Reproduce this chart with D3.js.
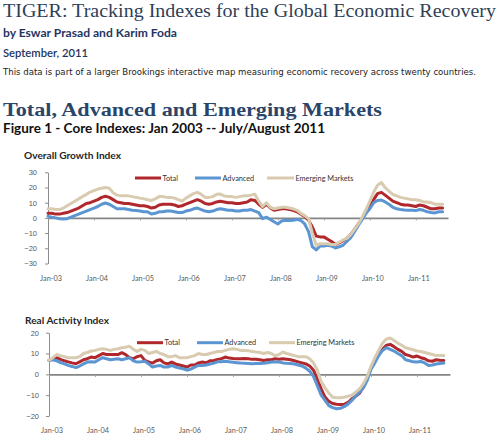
<!DOCTYPE html>
<html><head><meta charset="utf-8">
<script src="https://cdn.jsdelivr.net/npm/d3@7"></script>
<style>body{margin:0;background:#fff}svg{display:block}</style>
</head><body><svg id="c" width="500" height="437"></svg>
<script>
// ---- Data (monthly, Jan 2003 .. Aug 2011) ----
const xTickLabels = ["Jan-03","Jan-04","Jan-05","Jan-06","Jan-07","Jan-08","Jan-09","Jan-10","Jan-11"];
const xTickMonths = [0,12,24,36,48,60,72,84,96];
const seriesNames = ["Total","Advanced","Emerging Markets"];

const growthTotal = [
 3,3,2.5,2.5,3,3.5,4.5,5.5,6.5,8,9.5,10,
 11,12,13.5,14.2,13.5,12,10.5,10,9.5,9.5,9,8.5,
 8,8,7.5,6.5,7,8.5,9,9,9,8.5,7.5,8,
 9,10,11,12,11,9.5,9,9.5,10.5,11,10.5,10,
 10,9.5,9.5,10,10.5,12,11.5,9,7,9,6.5,5,
 5.5,6,6,5.5,5,4,2.5,1,-1.5,-6,-12,-12.5,
 -12.5,-14,-15.5,-17.5,-16.5,-15,-13.5,-11,-7.5,-4,-0.5,4,
 8,12,16,16.8,15,13,11,10,9,8.5,8.5,8,
 7.5,8.5,8,7,6,6,6.5,6.5];
const growthAdvanced = [
 1,0.5,0,-0.5,-0.7,-0.5,0.5,1.5,2.5,3.5,4.5,5.5,
 6.5,7.5,9,9.8,9,7.5,6,6,6,5.5,5,4.8,
 4.5,4,4,2.6,3,4,4,4.5,4.5,4,3.5,3.5,
 4.5,5,6,6.5,5.5,4.5,4,4.5,5.5,6,5.5,5,
 5,4.5,4.5,5,5,5.5,4.5,3.5,-0.5,0.5,-1,-2.5,
 -4,-2,-1.5,-1.7,-1.5,-1,-1.7,-4,-9,-19,-21,-18.5,
 -18.5,-18,-18.5,-19.8,-19,-18,-15.5,-13,-9,-5,-1,3,
 6,10,11.5,11.8,10.5,9,7,6,5.5,5.2,5,5,
 4.8,5.5,5,4,3.5,3.3,4,4];
const growthEmerging = [
 6,6,5.5,5.5,6.5,8,9.5,11,12.5,14,15.5,17,
 18,19,19.5,20,19.5,16.5,15,14.5,14.5,14.5,14,13.5,
 13,12.5,12,11.5,12.5,14,14,13.5,13.5,13,12,11,
 13,14.5,16,16.8,15.5,13.5,13.5,14,15.5,15.7,14.5,14,
 14,13.5,14,14.5,14.5,15,15.5,11,7.5,10,7,6,
 6.5,7,7,6.5,6,5,3,1.5,-0.5,-10,-18,-17,
 -17,-17,-17.5,-17.5,-16,-14.5,-13.5,-11,-7.5,-4,0.5,5.5,
 11,17,21.5,23.3,20,17.5,15.5,14.5,13.5,13,12.5,12,
 12,11.5,10.5,10.5,10,9,9,9];

const realTotal = [
 6.7,7.5,8,7.2,6.5,6,5.5,5.1,6,7,7.5,8.3,
 8,9,10,9.5,9.5,9.5,9.5,10.4,9.5,8,7.5,8.5,
 9,6.7,6,5.4,6.5,7,5.5,5,5.9,5,4.5,4,
 3.5,4.5,4.5,5.5,5.9,5.5,6.5,6.7,7.2,7.5,8.3,7.8,
 7.6,7.5,7.5,7.6,7.5,7.2,7.2,7,6.7,7,7,7.5,
 7.3,7.5,7.3,7,6.5,6,5.5,5,4,2,-2.5,-7,
 -10.9,-13,-14,-14.4,-14.5,-14.4,-13.5,-11.7,-10.5,-9,-6,-1.5,
 3,6.5,9.5,12,14,14.4,13.3,12,11,9.5,9,8.3,
 8.8,8,7.5,6.5,6.3,7,6.8,6.7];
const realAdvanced = [
 6.7,7,6.5,5.6,5,4.3,3.8,3.2,4,5,5.9,6,
 5.9,7,8,7.5,7,7.3,7.5,7,7.5,8,6.5,5.9,
 6,6.3,5,3.5,4,4.3,3.5,3.5,4.3,3.5,3,2.7,
 2,2.5,3.5,4.3,4.3,4.5,5,5.4,6,6.1,6.3,6,
 5.8,5.6,5.4,5.3,5.2,5.1,5.2,5.2,5.3,5.6,5.9,5.9,
 5.9,5.5,5.3,5.2,5,4.5,4,3,1.5,-1,-5.5,-10,
 -12.5,-15,-16,-16.5,-16.3,-15.5,-14.3,-12.5,-10.5,-8.5,-6.5,-3,
 2.5,5.5,9,11.5,12.8,12,11.2,10,9,7,6.5,6,
 5.9,6.2,5.5,4.3,4.5,5,5.2,5.4];
const realEmerging = [
 6.7,8,9.5,9,8.5,8,8,8,8.5,10,10.5,11.2,
 11.5,12,12.3,12,11.5,12,12.3,12.8,13,13.5,12,11,
 12,11.5,10,10.5,11,10,9.5,8.5,8.5,9,8,8,
 8,8.5,9,10,9.5,9.5,10,10.5,11,11,11.5,12,
 12.3,12,11.5,11.5,11.3,11,10.7,10.5,10,10.5,10,9,
 9.5,10.7,10,9.5,9,8.5,8.5,8.5,7.5,5.5,2,-3.5,
 -6.5,-9,-11,-11.2,-11.2,-11,-10.5,-10,-8.5,-7,-4.5,-1,
 4,8,11.5,15,17,17.5,16.3,15,14,12.8,12.3,11.8,
 11.2,11,10.5,10,9.5,9,9,9];

const growthTicks = [-30,-20,-10,0,10,20,30];
const realTicks = [-20,-10,0,10,20];
const colors = ["#b0282c","#5b96d2","#d9cbb0"];

// ---- Drawing ----
const svg = d3.select("#c");

function txt(x, y, s, o) {
  const t = svg.append("text").attr("x", x).attr("y", y).text(s)
    .attr("font-family", o.f).attr("font-size", o.s).attr("fill", o.c)
    .attr("font-weight", o.w || "normal");
  if (o.len) t.attr("textLength", o.len).attr("lengthAdjust", "spacingAndGlyphs");
  return t;
}
const SERIF = "'Liberation Serif','DejaVu Serif',serif";
const HUM = "Lato,'Open Sans',sans-serif";
txt(3, 17, "TIGER: Tracking Indexes for the Global Economic Recovery", {f: SERIF, s: 18.5, c: "#2f3f58", len: 493});
txt(3, 37, "by Eswar Prasad and Karim Foda", {f: HUM, s: 11, c: "#1f3561", w: "bold", len: 174});
txt(3, 57, "September, 2011", {f: HUM, s: 11, c: "#1f3561", w: "600", len: 85});
txt(3, 75, "This data is part of a larger Brookings interactive map measuring economic recovery across twenty countries.", {f: "'DejaVu Sans',sans-serif", s: 8.6, c: "#222", len: 473});
txt(3, 116, "Total, Advanced and Emerging Markets", {f: SERIF, s: 19.5, c: "#2b4569", w: "bold", len: 379});
txt(3, 132.5, "Figure 1 - Core Indexes: Jan 2003 -- July/August 2011", {f: HUM, s: 12.5, c: "#111", w: "bold", len: 322});

function drawChart(cfg) {
  const g = svg.append("g");
  const x = d3.scaleLinear().domain([0, cfg.xMax]).range([cfg.x0, cfg.x1]);
  const y = d3.scaleLinear().domain(cfg.yDomain).range([cfg.yBottom, cfg.yTop]);

  g.append("text").attr("x", cfg.titleX).attr("y", cfg.titleY).text(cfg.title)
    .attr("font-family", HUM).attr("font-size", 9.5).attr("font-weight", "bold").attr("fill", "#262626")
    .attr("textLength", cfg.titleLen).attr("lengthAdjust", "spacingAndGlyphs");

  // y axis
  const ya = g.append("g").attr("transform", `translate(${cfg.x0},0)`)
    .call(d3.axisLeft(y).tickValues(cfg.yTicks).tickSizeInner(3).tickSizeOuter(0).tickPadding(cfg.yPad));
  ya.select(".domain").attr("stroke", "#8c8c8c");
  ya.selectAll(".tick line").attr("stroke", "#8c8c8c");
  ya.selectAll(".tick text").attr("font-family", "'Liberation Sans',Arial,sans-serif").attr("font-size", 7.5).attr("fill", "#595959");

  // zero line with ticks
  const za = g.append("g").attr("transform", `translate(0,${y(0)})`)
    .call(d3.axisBottom(x).tickValues(xTickMonths).tickSizeInner(2.5).tickSizeOuter(0).tickFormat(""));
  za.select(".domain").attr("stroke", "#858585").attr("stroke-width", 1.6);
  za.selectAll(".tick line").attr("stroke", "#999");

  // bottom labels
  const la = g.append("g").attr("transform", `translate(2.5,${cfg.labelY})`)
    .call(d3.axisBottom(x).tickValues(xTickMonths).tickSize(0).tickPadding(0).tickFormat((d, i) => xTickLabels[i]));
  la.select(".domain").remove();
  la.selectAll(".tick text").attr("font-family", HUM).attr("font-size", 7.3).attr("fill", "#5a5a5a");

  // lines
  const line = d3.line().x((d, i) => x(i)).y(d => y(d));
  cfg.series.forEach((s, k) => {
    g.append("path").datum(s).attr("d", line).attr("fill", "none")
      .attr("stroke", colors[k]).attr("stroke-width", 3)
      .attr("stroke-linejoin", "round").attr("stroke-linecap", "round");
  });

  // legend
  cfg.legend.forEach((L, k) => {
    g.append("line").attr("x1", L[0]).attr("x2", L[1]).attr("y1", cfg.legY).attr("y2", cfg.legY)
      .attr("stroke", colors[k]).attr("stroke-width", 3);
    g.append("text").attr("x", L[1] + 1.5).attr("y", cfg.legY + 2.5).text(seriesNames[k])
      .attr("font-family", HUM).attr("font-size", 7.3).attr("fill", "#333");
  });
}

drawChart({
  title: "Overall Growth Index", titleX: 24, titleY: 158.5, titleLen: 97,
  x0: 48, x1: 448, xMax: 104.4, yDomain: [-30, 30], yBottom: 263.5, yTop: 172.3,
  yTicks: growthTicks, yPad: 8, labelY: 276,
  series: [growthTotal, growthAdvanced, growthEmerging],
  legY: 178, legend: [[135, 161], [195, 221], [267, 294]]
});
drawChart({
  title: "Real Activity Index", titleX: 25, titleY: 323.5, titleLen: 84,
  x0: 49, x1: 450, xMax: 104.6, yDomain: [-20, 20], yBottom: 416, yTop: 332.7,
  yTicks: realTicks, yPad: 7, labelY: 428,
  series: [realTotal, realAdvanced, realEmerging],
  legY: 342.7, legend: [[137, 163], [197, 223], [269, 295]]
});
</script>
</body></html>
